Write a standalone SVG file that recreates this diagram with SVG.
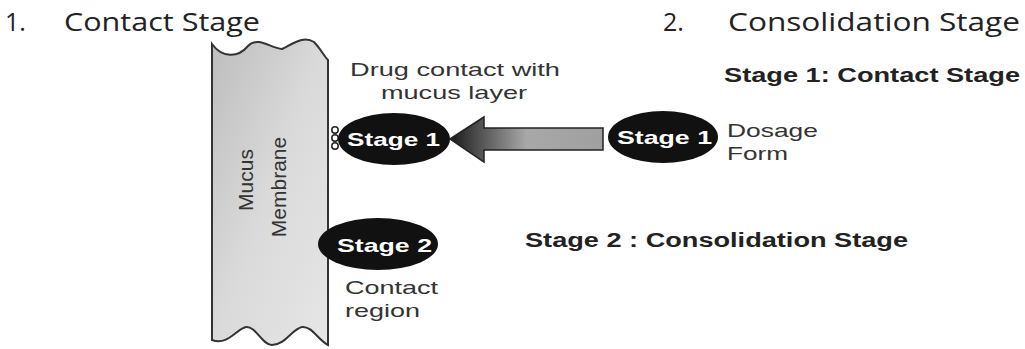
<svg xmlns="http://www.w3.org/2000/svg" width="1025" height="349" viewBox="0 0 1025 349">
<defs>
<linearGradient id="memg" x1="0" y1="0" x2="1" y2="1">
<stop offset="0" stop-color="#bdbdbd"/>
<stop offset="0.5" stop-color="#dadada"/>
<stop offset="1" stop-color="#e6e6e6"/>
</linearGradient>
<linearGradient id="arrg" gradientUnits="userSpaceOnUse" x1="450" y1="0" x2="603" y2="0">
<stop offset="0" stop-color="#1a1a1a"/>
<stop offset="0.5" stop-color="#a8a8a8"/>
<stop offset="1" stop-color="#a0a0a0"/>
</linearGradient>
<style>
.h{font-family:"Open Sans","Noto Sans",sans-serif;font-size:25px;fill:#222}
.b{font-family:"Liberation Sans",Arial,sans-serif;font-weight:bold;font-size:20px;fill:#222}
.t{font-family:"Liberation Sans",Arial,sans-serif;font-size:19px;fill:#333}
.m{font-family:"Liberation Sans",Arial,sans-serif;font-size:21px;fill:#333}
.ell{fill:#111}
.et{font-family:"Liberation Sans",Arial,sans-serif;font-weight:bold;font-size:19px;fill:#fff}
</style>
</defs>
<rect width="1025" height="349" fill="#fff"/>
<g id="titles">
<text class="h" x="5" y="31">1.</text>
<text class="h" x="64" y="31" textLength="196" lengthAdjust="spacingAndGlyphs">Contact Stage</text>
<text class="h" x="663" y="31">2.</text>
<text class="h" x="728" y="31" textLength="292" lengthAdjust="spacingAndGlyphs">Consolidation Stage</text>
<text class="b" x="724" y="82" textLength="296" lengthAdjust="spacingAndGlyphs">Stage 1: Contact Stage</text>
<text class="b" x="525" y="247" textLength="383" lengthAdjust="spacingAndGlyphs">Stage 2 : Consolidation Stage</text>
</g>
<g id="membrane">
<path d="M212,44 C222,58 238,58 248,46 C258,36 270,48 282,49 C296,42 304,36 314,42 C320,48 324,56 328,60 L328,345 C318,340 312,326 302,327 C292,329 285,345 272,345 C262,345 256,326 246,327 C236,329 228,346 212,340 Z" fill="url(#memg)" stroke="#333" stroke-width="2"/>
<text class="m" transform="translate(264,187) rotate(-90)" text-anchor="middle" x="7" y="-11">Mucus</text>
<text class="m" transform="translate(264,187) rotate(-90)" text-anchor="middle" x="0" y="22">Membrane</text>
</g>
<g id="contact-dots" fill="#fff" stroke="#222" stroke-width="1.5">
<circle cx="335" cy="130" r="3.2"/>
<circle cx="335" cy="138" r="3.2"/>
<circle cx="335" cy="146" r="3.2"/>
</g>
<g id="stage1-left">
<ellipse class="ell" cx="394" cy="139" rx="56" ry="26"/>
<text class="et" x="347" y="146" textLength="93" lengthAdjust="spacingAndGlyphs">Stage 1</text>
</g>
<g id="drug-contact-label">
<text class="t" x="350" y="76" textLength="210" lengthAdjust="spacingAndGlyphs">Drug contact with</text>
<text class="t" x="381" y="99" textLength="146" lengthAdjust="spacingAndGlyphs">mucus layer</text>
</g>
<g id="connectors">
<path d="M450,139 L484,117 L484,128 L603,128 L603,150 L484,150 L484,162 Z" fill="url(#arrg)" stroke="#222" stroke-width="1.5"/>
</g>
<g id="stage1-right">
<ellipse class="ell" cx="663" cy="137" rx="55" ry="26"/>
<text class="et" x="617" y="144" textLength="95" lengthAdjust="spacingAndGlyphs">Stage 1</text>
<text class="t" x="727" y="137" textLength="91" lengthAdjust="spacingAndGlyphs">Dosage</text>
<text class="t" x="727" y="160" textLength="61" lengthAdjust="spacingAndGlyphs">Form</text>
</g>
<g id="stage2">
<ellipse class="ell" cx="378" cy="244" rx="60" ry="26"/>
<text class="et" x="337" y="252" textLength="95" lengthAdjust="spacingAndGlyphs">Stage 2</text>
<text class="t" x="345" y="294" textLength="93" lengthAdjust="spacingAndGlyphs">Contact</text>
<text class="t" x="345" y="317" textLength="75" lengthAdjust="spacingAndGlyphs">region</text>
</g>
</svg>
